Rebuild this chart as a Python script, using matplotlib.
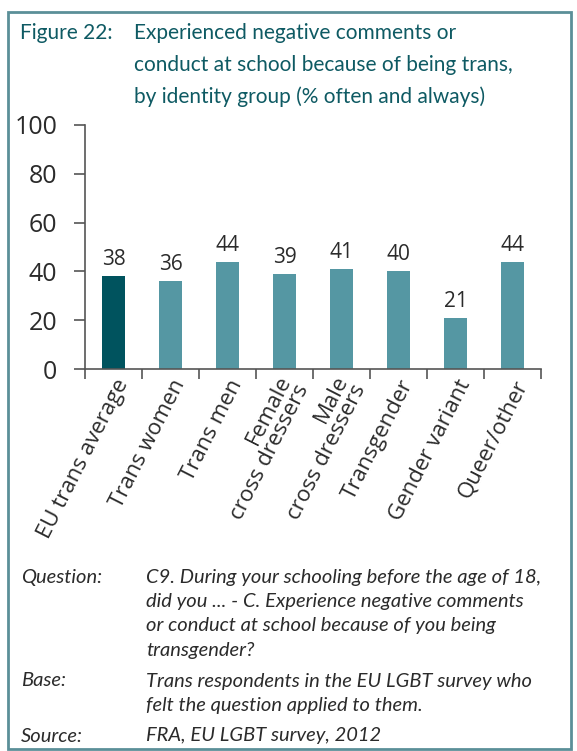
import numpy as np
import matplotlib.pyplot as plt
from matplotlib.patches import Rectangle

categories = ['EU trans average', 'Trans women', 'Trans men', 'Female\ncross dressers',
              'Male\ncross dressers', 'Transgender', 'Gender variant', 'Queer/other']
values = [38, 36, 44, 39, 41, 40, 21, 44]
yticks = [0, 20, 40, 60, 80, 100]

title_lines = ['Experienced negative comments or',
               'conduct at school because of being trans,',
               'by identity group (% often and always)']
notes = [('Question:', ['C9. During your schooling before the age of 18,',
                        'did you ... - C. Experience negative comments',
                        'or conduct at school because of you being',
                        'transgender?']),
         ('Base:', ['Trans respondents in the EU LGBT survey who',
                    'felt the question applied to them.']),
         ('Source:', ['FRA, EU LGBT survey, 2012'])]

W, H = 577, 751
dark = '#00535e'
light = '#5597a3'
title_col = '#0e5a63'
txt = '#2b2b2b'

fig = plt.figure(figsize=(W / 100, H / 100), dpi=100)

def px(x, y):
    return x / W, 1 - y / H

# frame
fig.patches.append(Rectangle(px(8, 749), 563 / W, 737 / H, transform=fig.transFigure,
                             fill=False, edgecolor='#5b8f98', linewidth=2))

# title
tf = 'Lato'
fig.text(*px(20, 33), 'Figure 22:', fontsize=15, color=title_col, family=tf, va='center')
for i, line in enumerate(title_lines):
    fig.text(*px(134, 33 + 32 * i), line, fontsize=15, color=title_col, family=tf, va='center')

# chart
ax = fig.add_axes([85 / W, 1 - 369 / H, 456 / W, 244 / H])
x = np.arange(len(categories))
colors = [dark] + [light] * (len(categories) - 1)
ax.bar(x, values, width=0.4, color=colors)
for xi, v in zip(x, values):
    ax.text(xi, v + 2.5, str(v), ha='center', va='bottom', fontsize=15, color=txt, family='Open Sans')

ax.set_xlim(-0.5, len(categories) - 0.5)
ax.set_ylim(0, 100)
ax.set_yticks(yticks)
ax.set_yticklabels([str(t) for t in yticks], fontsize=18, color=txt, family='Open Sans')
ax.set_xticks(np.arange(len(categories) + 1) - 0.5)
ax.set_xticklabels([])
ax.tick_params(axis='y', length=8, width=1.2, color='#555555', pad=12)
ax.tick_params(axis='x', length=7, width=1.2, color='#555555')
for s in ['top', 'right']:
    ax.spines[s].set_visible(False)
for s in ['left', 'bottom']:
    ax.spines[s].set_color('#555555')
    ax.spines[s].set_linewidth(1.2)

for xi, lab in zip(x, categories):
    ax.annotate(lab, xy=(xi, 0), xycoords=('data', 'axes fraction'), xytext=(10, -12),
                textcoords='offset pixels', rotation=63, ha='right', va='center',
                rotation_mode='anchor', fontsize=16, color=txt, family='Open Sans',
                multialignment='right', linespacing=0.95)

# notes
y = 577
for head, lines in notes:
    fig.text(*px(21, y), head, fontsize=14.5, style='italic', color=txt, family='Lato', va='center')
    for line in lines:
        fig.text(*px(146, y), line, fontsize=14.5, style='italic', color=txt, family='Lato', va='center')
        y += 24.5
    y += 6

fig.savefig('out.png', dpi=100)
